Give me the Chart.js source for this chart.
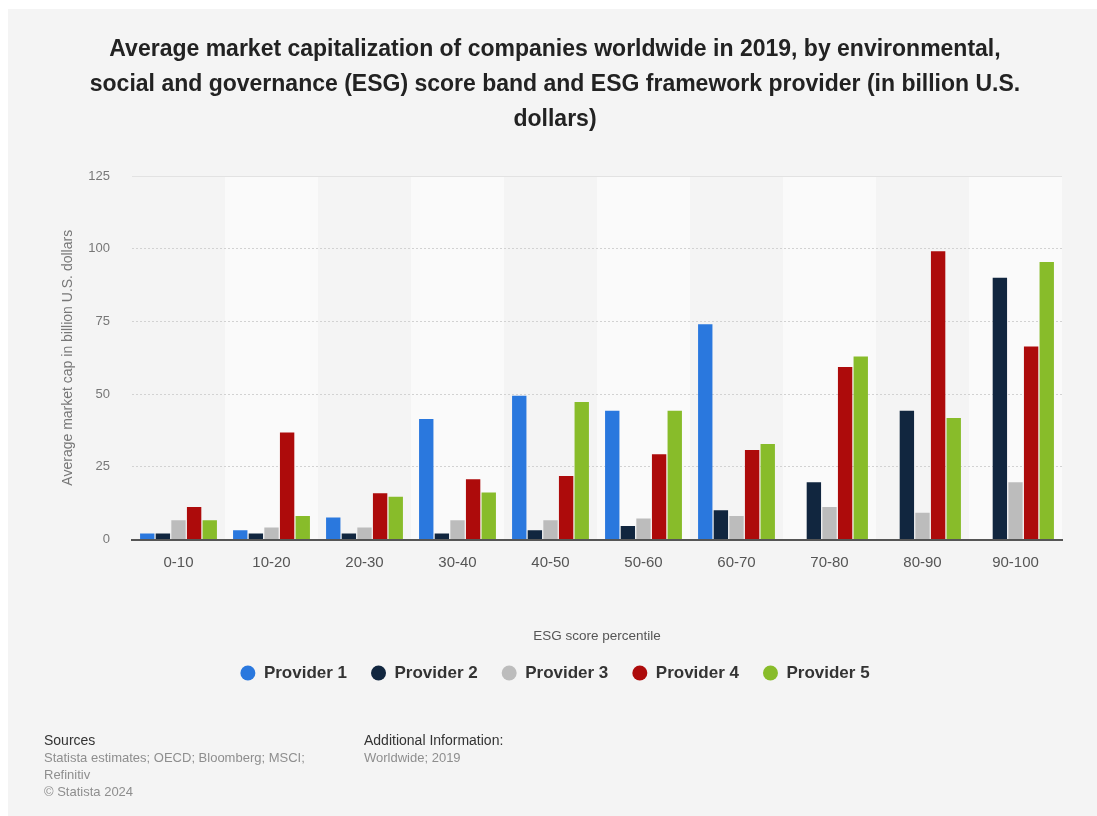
<!DOCTYPE html>
<html>
<head>
<meta charset="utf-8">
<script src="https://cdn.jsdelivr.net/npm/chart.js@4/dist/chart.umd.min.js"></script>
<style>
  html, body { margin: 0; padding: 0; background: #ffffff; }
  #panel {
    position: absolute; left: 8px; top: 9px; width: 1089px; height: 807px;
    background: #f4f4f4; overflow: hidden;
    font-family: "Liberation Sans", Arial, Helvetica, sans-serif;
  }
  #chart { position: absolute; left: 0; top: 0; }
  .foot { position: absolute; white-space: nowrap; }
  .foot .head { font-size: 14px; color: #333; line-height: 17px; }
  .foot .line { font-size: 13px; color: #8e8e8e; line-height: 17px; }
</style>
</head>
<body>
<div id="panel">
  <canvas id="chart" width="1089" height="807"></canvas>
  <div class="foot" style="left:36px; top:723px;">
    <div class="head">Sources</div>
    <div class="line">Statista estimates; OECD; Bloomberg; MSCI;</div>
    <div class="line">Refinitiv</div>
    <div class="line">© Statista 2024</div>
  </div>
  <div class="foot" style="left:356px; top:723px;">
    <div class="head">Additional Information:</div>
    <div class="line">Worldwide; 2019</div>
  </div>
</div>
<script>
// ESG score bands (percentiles)
const categories = ['0-10', '10-20', '20-30', '30-40', '40-50', '50-60', '60-70', '70-80', '80-90', '90-100'];

// Average market cap, billion U.S. dollars, per framework provider
const provider1 = [2.1, 3.2, 7.6, 41.4, 49.4, 44.3, 74.0, null, null, null];
const provider2 = [2.1, 2.1, 2.1, 2.1, 3.2, 4.6, 10.1, 19.7, 44.3, 90.0];
const provider3 = [6.6, 4.1, 4.1, 6.6, 6.6, 7.2, 8.1, 11.2, 9.2, 19.7];
const provider4 = [11.2, 36.8, 15.9, 20.7, 21.8, 29.3, 30.8, 59.3, 99.1, 66.4];
const provider5 = [6.6, 8.1, 14.7, 16.2, 47.3, 44.3, 32.8, 62.9, 41.8, 95.4];

const seriesNames = ['Provider 1', 'Provider 2', 'Provider 3', 'Provider 4', 'Provider 5'];
const seriesColors = ['#2a78de', '#11263f', '#bcbcbc', '#ad0b0b', '#88bc2a'];
const seriesValues = [provider1, provider2, provider3, provider4, provider5];

const titleLines = [
  'Average market capitalization of companies worldwide in 2019, by environmental,',
  'social and governance (ESG) score band and ESG framework provider (in billion U.S.',
  'dollars)'
];

const FONT = '"Liberation Sans", Arial, Helvetica, sans-serif';

// Alternating light bands behind every other category column
const columnBands = {
  id: 'columnBands',
  beforeDraw(chart) {
    const { ctx, chartArea, scales: { x } } = chart;
    const w = x.width / categories.length;
    ctx.save();
    ctx.fillStyle = '#fafafa';
    categories.forEach((c, i) => {
      if (i % 2 === 1) {
        const cx = x.getPixelForValue(i);
        ctx.fillRect(cx - w / 2, chartArea.top, w, chartArea.bottom - chartArea.top);
      }
    });
    ctx.restore();
  }
};

new Chart(document.getElementById('chart'), {
  type: 'bar',
  data: {
    labels: categories,
    datasets: seriesValues.map((vals, i) => ({
      label: seriesNames[i],
      data: vals,
      backgroundColor: seriesColors[i],
      borderWidth: 0,
      categoryPercentage: 0.84,
      barPercentage: 0.92
    }))
  },
  plugins: [columnBands],
  options: {
    responsive: false,
    devicePixelRatio: 1,
    animation: false,
    layout: { padding: { left: 40, right: 35, top: 0, bottom: 124.5 } },
    plugins: {
      tooltip: { enabled: false },
      title: {
        display: true,
        text: titleLines,
        color: '#222222',
        font: { family: FONT, size: 23, weight: 'bold', lineHeight: '35px' },
        padding: { top: 23, bottom: 39 }
      },
      legend: {
        position: 'bottom',
        labels: {
          usePointStyle: true,
          pointStyle: 'circle',
          pointStyleWidth: 15,
          boxHeight: 10.6,
          padding: 24,
          color: '#333333',
          font: { family: FONT, size: 17, weight: 'bold' }
        }
      }
    },
    scales: {
      x: {
        grid: { display: false, drawTicks: false },
        border: { display: true, color: '#555555', width: 2 },
        ticks: {
          color: '#555555',
          padding: 14.5,
          font: { family: FONT, size: 15 }
        },
        title: {
          display: true,
          text: 'ESG score percentile',
          color: '#555555',
          font: { family: FONT, size: 13.5, lineHeight: '9px' },
          padding: { top: 45, bottom: 0 }
        }
      },
      y: {
        min: 0,
        max: 125,
        afterFit: (scale) => { scale.width = 84; },
        ticks: {
          stepSize: 25,
          color: '#777777',
          padding: 22,
          font: { family: FONT, size: 13 }
        },
        grid: {
          drawTicks: false,
          lineWidth: 1,
          color: (c) => {
            if (!c.tick) return '#d2d2d2';
            if (c.tick.value === 0) return 'rgba(0,0,0,0)';
            if (c.tick.value === 125) return '#e2e2e2';
            return '#d2d2d2';
          }
        },
        border: {
          display: false,
          dash: (c) => (c.tick && c.tick.value === 125) ? [] : [2, 2]
        },
        title: {
          display: true,
          text: 'Average market cap in billion U.S. dollars',
          color: '#777777',
          font: { family: FONT, size: 14 },
          padding: { top: 11.6, bottom: 12 }
        }
      }
    }
  }
});
</script>
</body>
</html>
